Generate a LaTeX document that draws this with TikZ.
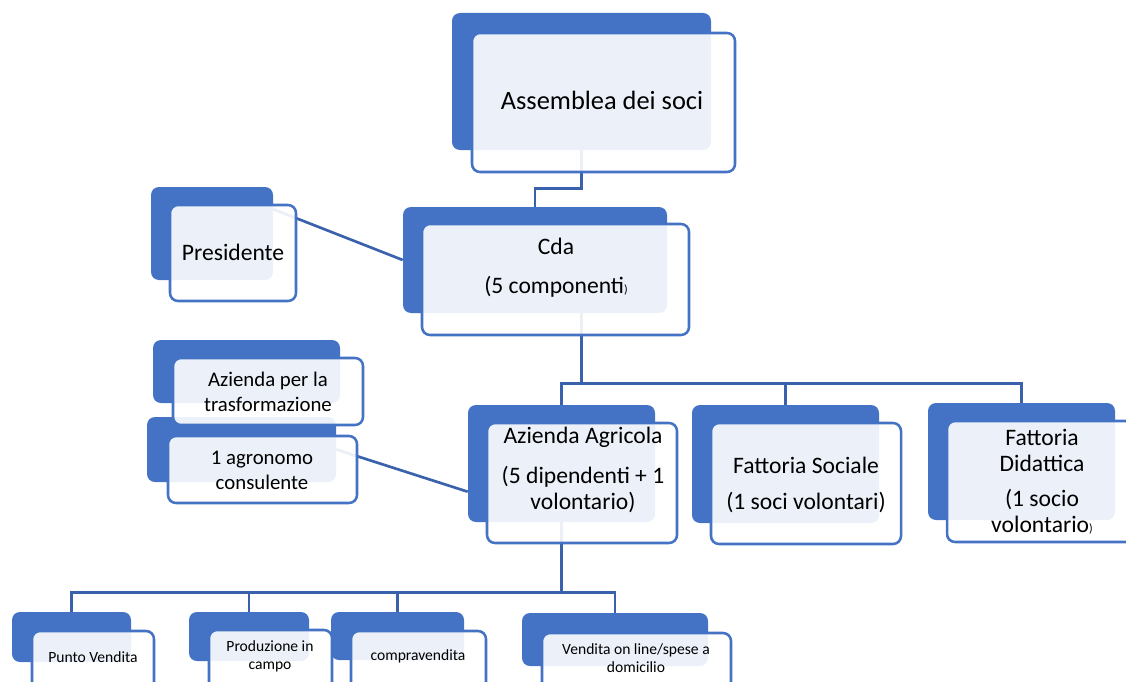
\documentclass[tikz,border=0pt]{standalone}
\usepackage{fontspec}
\setmainfont{Carlito}
\usetikzlibrary{calc,fit}
\pgfdeclarelayer{links}
\pgfsetlayers{links,main}
\definecolor{box blue}{HTML}{4472C4}
\definecolor{link blue}{HTML}{3A62AC}

\begin{document}
\begin{tikzpicture}[x=0.75pt,y=-0.75pt,
  back box/.style={fill=box blue,rounded corners=6pt,inner sep=0pt},
  front box/.style={draw=box blue,line width=1.9pt,fill=white,fill opacity=0.9,draw opacity=1,rounded corners=6pt,inner sep=0pt},
  link/.style={draw=link blue,line width=2pt},
  big text/.style={inner sep=0pt,align=center,font=\fontsize{19.8}{22}\selectfont},
  mid text/.style={inner sep=0pt,align=center,font=\fontsize{17.7}{19.5}\selectfont},
  side text/.style={inner sep=0pt,align=center,font=\fontsize{15.6}{18.8}\selectfont},
  small text/.style={inner sep=0pt,align=center,font=\fontsize{11.7}{13.5}\selectfont}]
  \useasboundingbox (0,0) rectangle (1126,681);
  \clip (0,0) rectangle (1126,681);

  \node[back box,fit={(452,13) (711,150)}] (assemblea back) {};
  \node[front box,fit={(472,33) (735,172)}] (assemblea front) {};
  \node[big text] (assemblea text) at (602,100) {Assemblea dei soci};

  \node[back box,fit={(151,187) (273,280)}] (presidente back) {};
  \node[front box,fit={(170,205) (296,301)}] (presidente front) {};
  \node[mid text] (presidente text) at (233,252) {Presidente};

  \node[back box,fit={(403,207) (667,313)}] (cda back) {};
  \node[front box,fit={(422,224) (689,335)}] (cda front) {};
  \node[mid text] (cda text) at (556,268) {Cda\\[10pt](5 componenti{\fontsize{9}{9}\selectfont)}};

  \node[back box,fit={(147,417) (336,482)}] (agronomo back) {};
  \node[front box,fit={(168,436) (357,503)}] (agronomo front) {};
  \node[side text] (agronomo text) at (262,470) {1 agronomo\\consulente};

  \node[back box,fit={(153,340) (340,403)}] (trasformazione back) {};
  \node[front box,fit={(173,358) (363,425)}] (trasformazione front) {};
  \node[side text] (trasformazione text) at (268,392) {Azienda per la\\trasformazione};

  \node[back box,fit={(468,405) (655,522)}] (azienda back) {};
  \node[front box,fit={(487,423) (677,543)}] (azienda front) {};
  \node[mid text] (azienda text) at (583,470) {Azienda Agricola\\[10pt](5 dipendenti + 1\\volontario)};

  \node[back box,fit={(692,405) (879,523)}] (sociale back) {};
  \node[front box,fit={(711,423) (901,544)}] (sociale front) {};
  \node[mid text] (sociale text) at (806,485) {Fattoria Sociale\\[8pt](1 soci volontari)};

  \node[back box,fit={(928,403) (1115,520)}] (didattica back) {};
  \node[front box,fit={(947,421) (1137,542)}] (didattica front) {};
  \node[mid text] (didattica text) at (1042,482) {Fattoria\\Didattica\\[7pt](1 socio\\volontario{\fontsize{9}{9}\selectfont)}};

  \node[back box,fit={(12,612) (131,662)}] (punto back) {};
  \node[front box,fit={(32,631) (154,700)}] (punto front) {};
  \node[small text] (punto text) at (93,657) {Punto Vendita};

  \node[back box,fit={(189,612) (309,661)}] (produzione back) {};
  \node[front box,fit={(209,630) (332,700)}] (produzione front) {};
  \node[small text] (produzione text) at (270,656) {Produzione in\\campo};

  \node[back box,fit={(331,612) (464,660)}] (compravendita back) {};
  \node[front box,fit={(351,631) (486,700)}] (compravendita front) {};
  \node[small text] (compravendita text) at (418,656) {compravendita};

  \node[back box,fit={(522,613) (708,666)}] (vendita back) {};
  \node[front box,fit={(542,633) (731,700)}] (vendita front) {};
  \node[small text] (vendita text) at (636,658) {Vendita on line/spese a\\domicilio};

  \coordinate (cda foot) at (assemblea back.south |- cda back.south);
  \coordinate (cda fork) at ($(cda foot)+(0,70)$);
  \coordinate (azienda fork) at ($(azienda back.south)+(0,70)$);
  \coordinate (presidente hook) at ($(presidente back.north east)!0.24!(presidente back.south east)$);
  \coordinate (azienda hook) at ($(azienda back.north west)!0.74!(azienda back.south west)$);

  \begin{pgfonlayer}{links}
  \draw[link] (assemblea back.south) -- ++(0,38) -| (cda back.north);
  \draw[link] (cda foot) -- (cda fork);
  \draw[link] (azienda back.north) |- (cda fork) -| (didattica back.north);
  \draw[link] (sociale back.north) -- (sociale back.north |- cda fork);
  \draw[link] (azienda back.south) -- (azienda fork);
  \draw[link] (punto back.north) |- (azienda fork) -| (vendita back.north);
  \draw[link] (produzione back.north) -- (produzione back.north |- azienda fork);
  \draw[link] (compravendita back.north) -- (compravendita back.north |- azienda fork);
  \draw[link] (presidente hook) -- (cda back.west);
  \draw[link] (agronomo back.east) -- (azienda hook);
  \end{pgfonlayer}
\end{tikzpicture}
\end{document}
